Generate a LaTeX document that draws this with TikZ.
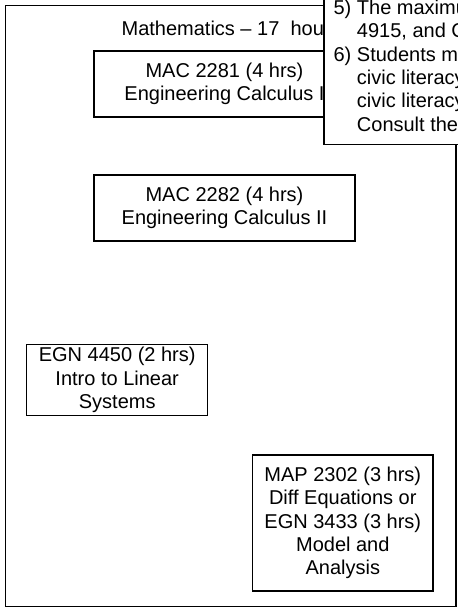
\documentclass[tikz,border=0pt]{standalone}
\usepackage{fontspec}
\setmainfont{Liberation Sans}
\begin{document}
\begin{tikzpicture}[x=1pt, y=-1pt, line width=1.2pt,
  font=\fontsize{20}{23.3}\selectfont,
  course/.style={draw, fill=white, align=center, inner sep=0pt}]
\useasboundingbox (0,0) rectangle (458,614);

% Outer frame of the mathematics block
\node[draw, inner sep=0pt, anchor=north west, minimum width=450.6, minimum height=601.3] (frame) at (4.7,4.7) {};

% Heading (runs under the notes box)
\node[anchor=west, inner sep=0pt] (title) at (121,28) {Mathematics – 17\ \ hou};

% Courses
\node[course, minimum width=261, minimum height=66] (mac2281) at (224.5,84) {MAC 2281 (4 hrs)\\Engineering Calculus I};
\node[course, minimum width=261, minimum height=66] (mac2282) at (224.5,208) {MAC 2282 (4 hrs)\\Engineering Calculus II};
\node[course, minimum width=181, minimum height=70.6] (egn4450) at (117.2,380) {EGN 4450 (2 hrs)\\Intro to Linear\\Systems};
\node[course, minimum width=180.3, minimum height=136] (map2302) at (342.8,523) {MAP 2302 (3 hrs)\\Diff Equations or\\EGN 3433 (3 hrs)\\Model and\\Analysis};

% Notes box laid over the top right corner
\node[draw, fill=white, anchor=south west, inner xsep=9.7, inner ysep=6.3] (notes) at (323.3,145) {%
  \begin{tabular}{@{}l@{\ }l@{}}
  5) & The maximu\\
     & 4915, and C\\
  6) & Students ma\\
     & civic literacy\\
     & civic literacy\\
     & Consult the
  \end{tabular}};

\end{tikzpicture}
\end{document}
